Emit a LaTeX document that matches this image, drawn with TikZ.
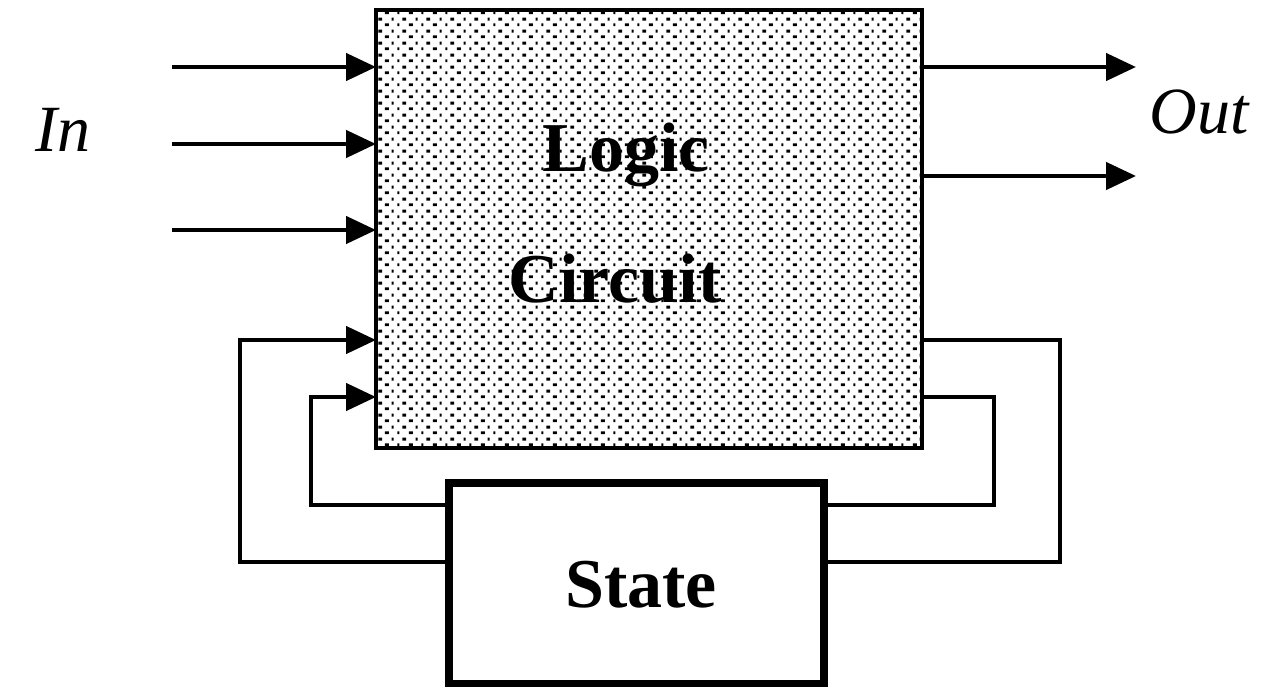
\documentclass[tikz,border=0pt]{standalone}
\usepackage{fontspec}
\setmainfont{Liberation Serif}
\usetikzlibrary{arrows.meta,patterns}
\pgfdeclarepatternformonly{mydots}{\pgfpointorigin}{\pgfpoint{24pt}{12pt}}{\pgfpoint{24pt}{12pt}}{%
  \pgfpathrectangle{\pgfpoint{1pt}{1pt}}{\pgfpoint{4pt}{3pt}}%
  \pgfpathrectangle{\pgfpoint{14pt}{1pt}}{\pgfpoint{2pt}{3pt}}%
  \pgfpathrectangle{\pgfpoint{19pt}{7pt}}{\pgfpoint{4pt}{3pt}}%
  \pgfpathrectangle{\pgfpoint{8pt}{7pt}}{\pgfpoint{2pt}{3pt}}%
  \pgfusepath{fill}}
\begin{document}
\begin{tikzpicture}[x=1pt,y=-1pt,
  wire/.style={line width=4.5pt},
  arr/.style={wire,-{Triangle[length=30pt,width=27pt]}},
  lbl/.style={anchor=base,inner sep=0pt,font=\fontsize{70}{80}\selectfont},
  blbl/.style={lbl,font=\bfseries\fontsize{70}{80}\selectfont},
  ilbl/.style={lbl,font=\itshape\fontsize{66}{80}\selectfont}]
\useasboundingbox (0,0) rectangle (1272,687);
% boxes
\node[draw,line width=4.5pt,pattern=mydots,minimum width=546pt,minimum height=438pt,
      inner sep=0pt,outer sep=0pt,anchor=north west] (logic) at (376,10) {};
\node[draw,line width=8pt,minimum width=375pt,minimum height=201pt,inner sep=0pt,outer sep=0pt] (state) at (636.5,583.5) {};
% labels
\node[blbl] (tlogic) at (626,172) {Logic};
\node[blbl] (tcirc) at (615,302) {Circuit};
\node[blbl] (tstate) at (641,607) {State};
\node[ilbl] (tin) at (63,152) {In};
\node[ilbl] (tout) at (1199,134) {Out};
% inputs
\coordinate (i1) at (172,67);
\coordinate (i2) at (172,144);
\coordinate (i3) at (172,230);
\draw[arr] (i1) -- (logic.west |- i1);
\draw[arr] (i2) -- (logic.west |- i2);
\draw[arr] (i3) -- (logic.west |- i3);
% outputs
\coordinate (o1) at (1136,67);
\coordinate (o2) at (1136,176);
\draw[arr] (logic.east |- o1) -- (o1);
\draw[arr] (logic.east |- o2) -- (o2);
% feedback
\coordinate (fl1) at (240,340);
\coordinate (fl2) at (311,397);
\coordinate (fr1) at (1060,562);
\coordinate (fr2) at (994,505);
\draw[wire] (logic.east |- fl1) -| (fr1) -- (state.east |- fr1);
\draw[wire] (logic.east |- fl2) -| (fr2) -- (state.east |- fr2);
\draw[arr] (state.west |- fr1) -| (fl1) -- (logic.west |- fl1);
\draw[arr] (state.west |- fr2) -| (fl2) -- (logic.west |- fl2);
\end{tikzpicture}
\end{document}
